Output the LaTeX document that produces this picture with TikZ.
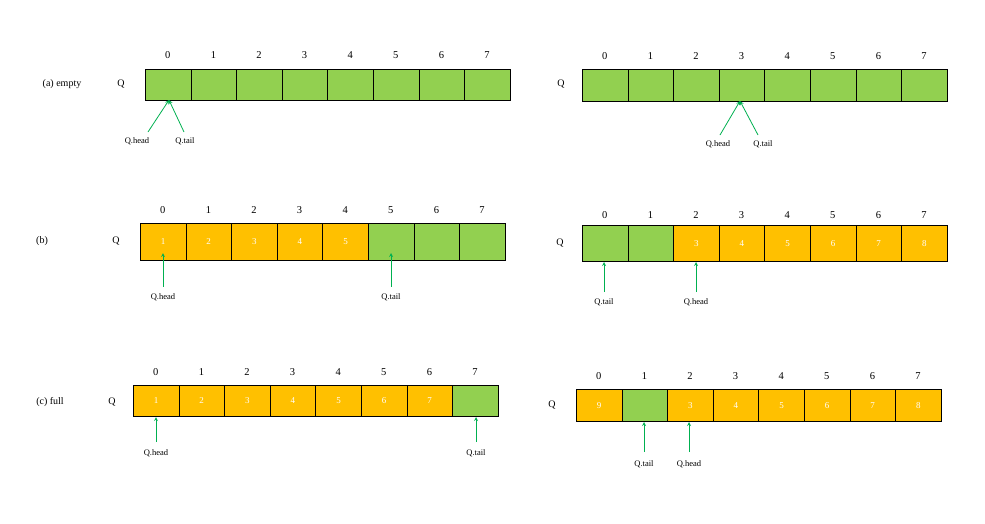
\documentclass[tikz,border=0pt]{standalone}
\usepackage{fontspec}
\setmainfont{Liberation Serif}
\begin{document}
\definecolor{cg}{HTML}{92D050}
\definecolor{co}{HTML}{FFC000}
\definecolor{ca}{HTML}{00B050}
\begin{tikzpicture}[x=1pt,y=-1pt,
 cell/.style={draw=black,line width=0.6pt,minimum width=45.6pt,anchor=north west,inner sep=0pt,text=white,font=\fontsize{9}{10}\selectfont},
 idx/.style={font=\fontsize{10.5}{12}\selectfont},
 lab/.style={font=\fontsize{10}{12}\selectfont},
 ptr/.style={font=\fontsize{8.5}{10}\selectfont},
 arr/.style={draw=ca,line width=0.8pt,-stealth}]
\useasboundingbox (0,0) rectangle (985,523);
% row generic: \row{name}{x0}{y0}{h}{idxy}{list of fill/text}
\newcommand{\qrow}[6]{%
 \foreach \f/\t [count=\i from 0] in {#6} {
  \node[cell,fill=\f,minimum height=#4pt] (#1\i) at ({#2+45.6*\i},#3) {\t};
  \node[idx] (#1n\i) at ({#2+45.6*\i+22.8},#5) {\i};
 }}
% (a) left
\node[lab] (la) at (62,84) {(a) empty};
\node[lab] (qa) at (121,84) {Q};
\qrow{a}{145}{69}{31}{55}{cg/,cg/,cg/,cg/,cg/,cg/,cg/,cg/}
\node[ptr] (ah) at (137,141) {Q.head};
\node[ptr] (at) at (185,141) {Q.tail};
\coordinate (ap) at (169,100);
\draw[arr] (148,132) -- (ap);
\draw[arr] (184,132) -- (ap);
% (a) right
\node[lab] (qa2) at (561,84) {Q};
\qrow{A}{582}{69}{32}{56}{cg/,cg/,cg/,cg/,cg/,cg/,cg/,cg/}
\node[ptr] (Ah) at (718,144) {Q.head};
\node[ptr] (At) at (763,144) {Q.tail};
\coordinate (Ap) at (740,101);
\draw[arr] (720,135) -- (Ap);
\draw[arr] (758,135) -- (Ap);
% (b) left
\node[lab] (lb) at (42,241) {(b)};
\node[lab] (qb) at (116,241) {Q};
\qrow{b}{140}{223}{37}{210}{co/1,co/2,co/3,co/4,co/5,cg/,cg/,cg/}
\node[ptr] (bh) at (163,297) {Q.head};
\node[ptr] (bt) at (391,297) {Q.tail};
\draw[arr] (bh.north -| 163,0) ++(0,-3) -- (163,253);
\draw[arr] (bt.north -| 391,0) ++(0,-3) -- (391,253);
% (b) right
\node[lab] (qb2) at (560,243) {Q};
\qrow{B}{582}{225}{36}{215}{cg/,cg/,co/3,co/4,co/5,co/6,co/7,co/8}
\node[ptr] (Bt) at (604,302) {Q.tail};
\node[ptr] (Bh) at (696,302) {Q.head};
\draw[arr] (604,292) -- (604,262);
\draw[arr] (696,292) -- (696,262);
% (c) left
\node[lab] (lc) at (50,402) {(c) full};
\node[lab] (qc) at (112,402) {Q};
\qrow{c}{133}{385}{31}{372}{co/1,co/2,co/3,co/4,co/5,co/6,co/7,cg/}
\node[ptr] (ch) at (156,453) {Q.head};
\node[ptr] (ct) at (476,453) {Q.tail};
\draw[arr] (156,442) -- (156,417);
\draw[arr] (476,442) -- (476,417);
% (c) right
\node[lab] (qc2) at (552,405) {Q};
\qrow{C}{576}{389}{32}{376}{co/9,cg/,co/3,co/4,co/5,co/6,co/7,co/8}
\node[ptr] (Ct) at (644,464) {Q.tail};
\node[ptr] (Ch) at (689,464) {Q.head};
\draw[arr] (644,452) -- (644,422);
\draw[arr] (689,452) -- (689,422);
\end{tikzpicture}
\end{document}
